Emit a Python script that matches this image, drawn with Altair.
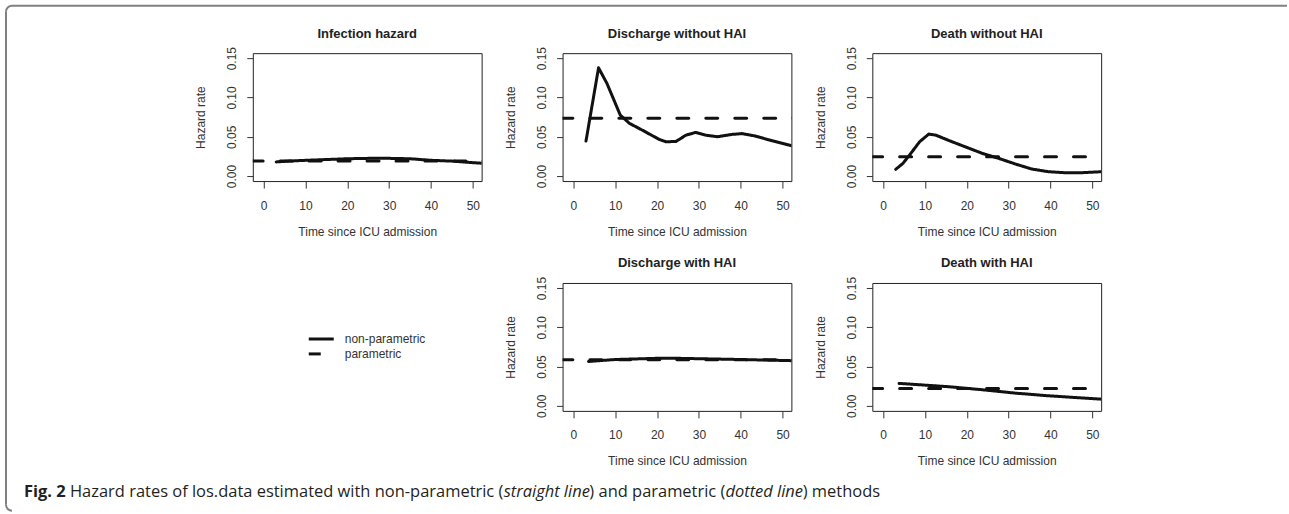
import os
import math
import struct
import altair as alt
import pandas as pd

# ---------------- data ----------------
methods = ["non-parametric", "parametric"]
panel_titles = ["Infection hazard", "Discharge without HAI", "Death without HAI",
                "Discharge with HAI", "Death with HAI"]

# non-parametric hazard estimates (solid lines)
np_t_infection = [3, 6, 10, 15, 20, 25, 30, 35, 40, 45, 50, 53]
np_h_infection = [0.018, 0.019, 0.020, 0.021, 0.022, 0.0225, 0.0225, 0.022, 0.020, 0.019, 0.017, 0.016]

np_t_discharge = [3, 6, 8, 11.2, 13.4, 16.6, 20.5, 22.1, 24.5, 26.9, 29.2, 31.6, 34.4, 37.9, 40.3, 43.4, 47.4, 52.2]
np_h_discharge = [0.0445, 0.1377, 0.118, 0.0775, 0.067, 0.058, 0.0466, 0.0436, 0.044, 0.052, 0.0555,
                  0.052, 0.050, 0.053, 0.054, 0.051, 0.045, 0.0386]

np_t_death = [3.0, 4.7, 6.3, 8.7, 10.9, 12.6, 15.8, 19.7, 23.7, 27.6, 31.6, 35.5, 39.5, 43.4, 47.4, 52.2]
np_h_death = [0.0085, 0.016, 0.0267, 0.0436, 0.0534, 0.052, 0.045, 0.037, 0.0288, 0.0225, 0.0153,
              0.0089, 0.0055, 0.0042, 0.0042, 0.0055]

np_t_discharge_hai = [3.6, 10, 20, 25, 30, 40, 52.2]
np_h_discharge_hai = [0.0565, 0.059, 0.0605, 0.0605, 0.060, 0.059, 0.0575]

np_t_death_hai = [3.8, 15.8, 23.7, 31.6, 39.5, 52.2]
np_h_death_hai = [0.0286, 0.0243, 0.0205, 0.0162, 0.0128, 0.0085]

# parametric (constant) hazards (dashed lines)
par_t = [-3, 53]
par_h = [0.019, 0.0737, 0.0246, 0.0588, 0.0221]

x_ticks = [0, 10, 20, 30, 40, 50]
y_ticks = [0.0, 0.05, 0.10, 0.15]

caption_parts = ["Fig. 2", " Hazard rates of los.data estimated with non-parametric (", "straight line",
                 ") and parametric (", "dotted line", ") methods"]
caption_styles = ["bold", "regular", "italic", "regular", "italic", "regular"]

# ---------------- build tables ----------------
np_series = [(np_t_infection, np_h_infection), (np_t_discharge, np_h_discharge), (np_t_death, np_h_death),
             (np_t_discharge_hai, np_h_discharge_hai), (np_t_death_hai, np_h_death_hai)]
rows = []
for title, (ts, hs), ph in zip(panel_titles, np_series, par_h):
    for t, h in zip(ts, hs):
        rows.append({"panel": title, "method": "non-parametric", "t": t, "h": h})
    for t in par_t:
        rows.append({"panel": title, "method": "parametric", "t": t, "h": ph})
df = pd.DataFrame(rows)

# ---------------- caption text measurement ----------------
def _index_fonts():
    found = {}
    for r in ["/usr/share/fonts", "/usr/local/share/fonts", os.path.expanduser("~/.fonts"),
              os.path.expanduser("~/.local/share/fonts")]:
        if not os.path.isdir(r):
            continue
        for dp, _, fs in os.walk(r):
            for f in fs:
                found.setdefault(f.lower(), os.path.join(dp, f))
    return found

def _width_fn(path):
    data = open(path, "rb").read()
    n_tables = struct.unpack(">H", data[4:6])[0]
    tables = {}
    for i in range(n_tables):
        tag, _, off, _ = struct.unpack(">4sIII", data[12 + 16 * i:28 + 16 * i])
        tables[tag.decode("latin1")] = off
    head = tables["head"]
    upem = struct.unpack(">H", data[head + 18:head + 20])[0]
    hhea = tables["hhea"]
    nhm = struct.unpack(">H", data[hhea + 34:hhea + 36])[0]
    hmtx = tables["hmtx"]
    adv = [struct.unpack(">H", data[hmtx + 4 * i:hmtx + 4 * i + 2])[0] for i in range(nhm)]
    cmap = tables["cmap"]
    nsub = struct.unpack(">H", data[cmap + 2:cmap + 4])[0]
    sub = None
    for i in range(nsub):
        pid, eid, off = struct.unpack(">HHI", data[cmap + 4 + 8 * i:cmap + 12 + 8 * i])
        fmt = struct.unpack(">H", data[cmap + off:cmap + off + 2])[0]
        if fmt == 4:
            sub = cmap + off
            break
    segx2 = struct.unpack(">H", data[sub + 6:sub + 8])[0]
    seg = segx2 // 2
    ends = struct.unpack(">%dH" % seg, data[sub + 14:sub + 14 + segx2])
    starts = struct.unpack(">%dH" % seg, data[sub + 16 + segx2:sub + 16 + 2 * segx2])
    deltas = struct.unpack(">%dh" % seg, data[sub + 16 + 2 * segx2:sub + 16 + 3 * segx2])
    rpos = sub + 16 + 3 * segx2
    roffs = struct.unpack(">%dH" % seg, data[rpos:rpos + segx2])

    def gid(c):
        for i in range(seg):
            if starts[i] <= c <= ends[i]:
                if roffs[i] == 0:
                    return (c + deltas[i]) & 0xFFFF
                addr = rpos + 2 * i + roffs[i] + 2 * (c - starts[i])
                g = struct.unpack(">H", data[addr:addr + 2])[0]
                return (g + deltas[i]) & 0xFFFF if g else 0
        return 0

    def width(s, size):
        return sum(adv[min(gid(ord(ch)), nhm - 1)] for ch in s) * size / upem
    return width

CAP_FONT = "Open Sans"
_fonts = _index_fonts()
_cands = {
    "regular": ["opensans-regular.ttf", "opensans[wdth,wght].ttf", "opensans-variablefont_wdth,wght.ttf"],
    "bold": ["opensans-bold.ttf"],
    "italic": ["opensans-italic.ttf", "opensans-italic[wdth,wght].ttf",
               "opensans-italic-variablefont_wdth,wght.ttf"],
}
_wf = {}
for style, names in _cands.items():
    for nm in names:
        if nm in _fonts:
            try:
                _wf[style] = _width_fn(_fonts[nm])
                break
            except Exception:
                pass

def text_width(s, style, size):
    if style in _wf:
        return _wf[style](s, size)
    if "regular" in _wf:
        return _wf["regular"](s, size) * (1.08 if style == "bold" else 0.97)
    return len(s) * size * 0.55 * (1.08 if style == "bold" else 1.0)

# caption spans from x=23 to x=880 in the figure -> choose the font size that fills it
cap_span = 857.0
unit_w = sum(text_width(p, s, 1.0) for p, s in zip(caption_parts, caption_styles))
CAP_SIZE = round(cap_span / unit_w, 2) if unit_w > 0 else 16.0

cap_x0 = 23 - 252  # relative to the blank cell's plot origin
cap_rows = []
cx = cap_x0
for part, style in zip(caption_parts, caption_styles):
    lead = len(part) - len(part.lstrip(" "))
    cap_rows.append({"text": part.strip(" "), "style": style,
                     "cx": cx + text_width(" " * lead, style, CAP_SIZE)})
    cx += text_width(part, style, CAP_SIZE)
cap_df = pd.DataFrame(cap_rows)

# ---------------- chart ----------------
FONT = "Liberation Sans"
W, H = 229, 128

def panel(title, title_offset):
    sub = df[df["panel"] == title]
    return alt.Chart(sub).mark_line(
        color="#111", strokeWidth=3, clip=True, strokeCap="round", strokeJoin="round"
    ).encode(
        x=alt.X("t:Q", scale=alt.Scale(domain=[-2.6, 52.1], nice=False, zero=False),
                axis=alt.Axis(values=x_ticks, title="Time since ICU admission", format="d")),
        y=alt.Y("h:Q", scale=alt.Scale(domain=[-0.0064, 0.1564], nice=False, zero=False),
                axis=alt.Axis(values=y_ticks, format=".2f", title="Hazard rate", labelAngle=270,
                              labelAlign="center", labelBaseline="bottom")),
        strokeDash=alt.StrokeDash("method:N", scale=alt.Scale(domain=methods, range=[[1, 0], [12, 17]]),
                                  legend=None),
        detail="method:N",
    ).properties(
        width=W, height=H,
        title=alt.TitleParams(title, fontSize=13, fontWeight="bold", font=FONT, color="#222",
                              anchor="middle", frame="group", baseline="middle", offset=title_offset),
    )

legend_df = pd.DataFrame({"method": methods})
legend_y = alt.Y("method:O", scale=alt.Scale(type="point", domain=methods, range=[56, 71], padding=0),
                 axis=None)
legend_lines = alt.Chart(legend_df).mark_rule(color="#111", strokeWidth=3).encode(
    x=alt.value(56), x2=alt.value(81), y=legend_y,
    strokeDash=alt.StrokeDash("method:N", scale=alt.Scale(domain=methods, range=[[1, 0], [18, 14]]),
                              legend=None),
)
legend_text = alt.Chart(legend_df).mark_text(
    align="left", baseline="middle", fontSize=12, font=FONT, color="#333"
).encode(x=alt.value(92), y=legend_y, text="method:N")

cap_base = alt.Chart(cap_df)
cap_layers = []
for style, weight, fstyle in [("bold", "bold", "normal"), ("regular", "normal", "normal"),
                              ("italic", "normal", "italic")]:
    cap_layers.append(
        cap_base.transform_filter(alt.datum.style == style).mark_text(
            align="left", baseline="alphabetic", font=CAP_FONT, fontSize=CAP_SIZE,
            fontWeight=weight, fontStyle=fstyle, color="#231f20"
        ).encode(x=alt.X("cx:Q", scale=None, axis=None), y=alt.value(214), text="text:N")
    )

# figure frame (top and left edges with rounded corners), relative to the blank cell origin
FR_X, FR_TOP, FR_BOT, R = -247, -277.5, 228, 6
FRAME_COL = "#808080"
frame_df = pd.DataFrame({"k": [0]})
frame_top = alt.Chart(frame_df).mark_rule(color=FRAME_COL, strokeWidth=2).encode(
    x=alt.value(FR_X + R), x2=alt.value(1035), y=alt.value(FR_TOP))
frame_left = alt.Chart(frame_df).mark_rule(color=FRAME_COL, strokeWidth=2).encode(
    x=alt.value(FR_X), y=alt.value(FR_TOP + R), y2=alt.value(FR_BOT - R))
corner_tl = alt.Chart(frame_df).mark_arc(
    radius=R + 1, radius2=R - 1, theta=1.5 * math.pi, theta2=2 * math.pi, fill=FRAME_COL
).encode(x=alt.value(FR_X + R), y=alt.value(FR_TOP + R))
corner_bl = alt.Chart(frame_df).mark_arc(
    radius=R + 1, radius2=R - 1, theta=math.pi, theta2=1.5 * math.pi, fill=FRAME_COL
).encode(x=alt.value(FR_X + R), y=alt.value(FR_BOT - R))

blank = alt.layer(legend_lines, legend_text, *cap_layers, frame_top, frame_left,
                  corner_tl, corner_bl).properties(
    width=W, height=H, view=alt.ViewBackground(stroke="transparent"))

chart = alt.concat(
    panel(panel_titles[0], 0), panel(panel_titles[1], 0), panel(panel_titles[2], 0),
    blank, panel(panel_titles[3], 0), panel(panel_titles[4], 0),
    columns=3, spacing={"row": 102, "column": 81}, bounds="flush",
).properties(
    padding={"left": 4, "top": 4, "right": 0, "bottom": 0},
    background="white",
).configure_view(
    stroke="#222", strokeWidth=1
).configure_axis(
    grid=False, domain=False, labelFont=FONT, labelFontSize=12, labelColor="#333",
    titleFont=FONT, titleFontSize=12, titleFontWeight="normal", titleColor="#333",
    tickColor="#333", tickWidth=1,
).configure_axisX(
    tickSize=7, labelPadding=12, titlePadding=15,
).configure_axisY(
    tickSize=6, labelPadding=8, titlePadding=18,
)

chart.save("out.html", embed_options={"renderer": "svg", "actions": False})
